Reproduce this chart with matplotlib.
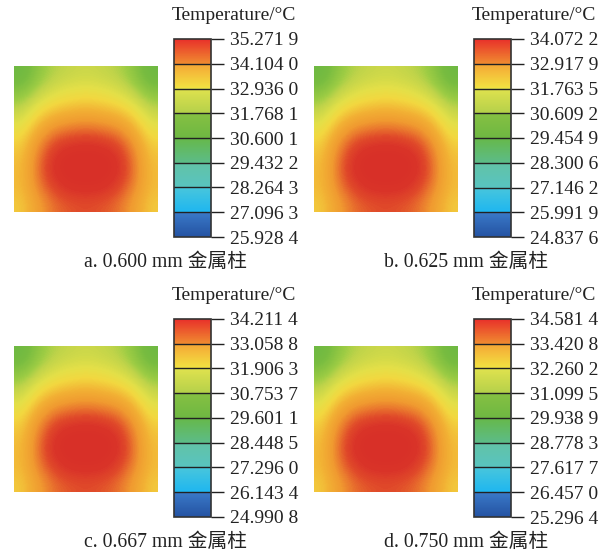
import numpy as np
import matplotlib
matplotlib.use("Agg")
import matplotlib.pyplot as plt
from matplotlib.colors import LinearSegmentedColormap, Normalize, to_rgb
from matplotlib.cm import ScalarMappable

plt.rcParams['font.family'] = ['Liberation Serif', 'Noto Sans CJK SC']

W, H = 612, 554

captions = ["a. 0.600 mm 金属柱", "b. 0.625 mm 金属柱",
            "c. 0.667 mm 金属柱", "d. 0.750 mm 金属柱"]

labels_a = ["35.271 9", "34.104 0", "32.936 0", "31.768 1", "30.600 1",
            "29.432 2", "28.264 3", "27.096 3", "25.928 4"]
labels_b = ["34.072 2", "32.917 9", "31.763 5", "30.609 2", "29.454 9",
            "28.300 6", "27.146 2", "25.991 9", "24.837 6"]
labels_c = ["34.211 4", "33.058 8", "31.906 3", "30.753 7", "29.601 1",
            "28.448 5", "27.296 0", "26.143 4", "24.990 8"]
labels_d = ["34.581 4", "33.420 8", "32.260 2", "31.099 5", "29.938 9",
            "28.778 3", "27.617 7", "26.457 0", "25.296 4"]

# temperature field read as position on the colour scale (0 = bottom, 1 = top)
field_rel = np.array([
    [0.52, 0.60, 0.65, 0.67, 0.68, 0.67, 0.65, 0.60, 0.52],
    [0.58, 0.65, 0.70, 0.72, 0.73, 0.72, 0.70, 0.65, 0.58],
    [0.65, 0.73, 0.77, 0.79, 0.80, 0.79, 0.77, 0.73, 0.65],
    [0.71, 0.80, 0.86, 0.88, 0.89, 0.88, 0.86, 0.80, 0.71],
    [0.76, 0.87, 0.94, 0.96, 0.97, 0.96, 0.94, 0.87, 0.76],
    [0.79, 0.91, 0.98, 1.00, 1.00, 1.00, 0.98, 0.91, 0.79],
    [0.80, 0.92, 0.99, 1.00, 1.00, 1.00, 0.99, 0.92, 0.80],
    [0.80, 0.90, 0.96, 0.99, 0.99, 0.99, 0.96, 0.90, 0.80],
    [0.78, 0.86, 0.92, 0.94, 0.95, 0.94, 0.92, 0.86, 0.78],
])

# colour bands of the legend, top to bottom: (top colour, bottom colour)
bands = [("#e8302a", "#f08c30"), ("#f5a535", "#f2e442"),
         ("#e0e24e", "#b4d04a"), ("#86c042", "#6eb842"),
         ("#66b848", "#5cbc88"), ("#62c2a6", "#58c4c0"),
         ("#48c6dc", "#1eb6f0"), ("#3a7ac8", "#2452a2")]

smooth_nodes = [(0.0, "#1f4e9c"), (0.12, "#3a7cc8"), (0.13, "#22b8ee"),
                (0.25, "#4cc8dc"), (0.30, "#5cc2c0"), (0.375, "#62c0a4"),
                (0.45, "#5cb870"), (0.50, "#6ab844"), (0.56, "#78bc40"),
                (0.625, "#9ccc44"), (0.66, "#c0d44a"), (0.72, "#e4e048"),
                (0.76, "#f2d840"), (0.82, "#f2b034"), (0.875, "#f09a30"),
                (0.91, "#ea7a2e"), (0.95, "#e04a2a"), (0.98, "#da3429"),
                (1.0, "#d83028")]
smooth_cmap = LinearSegmentedColormap.from_list("smooth", smooth_nodes)

# banded colormap for the colour bar
up = [(to_rgb(b), to_rgb(t)) for t, b in bands[::-1]]  # bottom to top
seg = {"red": [], "green": [], "blue": []}
n = len(up)
for k in range(n + 1):
    x = k / n
    below = up[k - 1][1] if k > 0 else up[0][0]
    above = up[k][0] if k < n else up[-1][1]
    for i, ch in enumerate(["red", "green", "blue"]):
        seg[ch].append((x, below[i], above[i]))
band_cmap = LinearSegmentedColormap("bands", seg, N=512)

panels = [(labels_a, 0, 0), (labels_b, 300, 0),
          (labels_c, 0, 280), (labels_d, 300, 280)]

fig = plt.figure(figsize=(W / 100, H / 100), dpi=100)


def px_axes(x, y, w, h):
    return fig.add_axes([x / W, 1 - (y + h) / H, w / W, h / H])


for (labels, dx, dy), cap in zip(panels, captions):
    vals = [float(s.replace(" ", "")) for s in labels]
    hi, lo = vals[0], vals[-1]
    temp = lo + field_rel * (hi - lo)

    ax = px_axes(14 + dx, 66 + dy, 144, 146)
    ax.imshow(temp, cmap=smooth_cmap, vmin=lo, vmax=hi,
              interpolation="bicubic", aspect="auto")
    ax.axis("off")

    cax = px_axes(174 + dx, 39 + dy, 37, 198)
    sm = ScalarMappable(norm=Normalize(lo, hi), cmap=band_cmap)
    cb = fig.colorbar(sm, cax=cax, ticks=vals)
    cb.ax.set_yticklabels(labels)
    cb.ax.tick_params(length=9, width=1, pad=5, labelsize=14,
                      color="#222222", labelcolor="#222222")
    cb.outline.set_linewidth(1.2)
    cb.outline.set_edgecolor("#333333")
    for v in vals[1:-1]:
        cax.axhline(v, color="#222222", lw=1)

    fig.text((172 + dx) / W, 1 - (15 + dy) / H, "Temperature/°C",
             ha="left", va="center", fontsize=14, color="#222222")
    fig.text((166 + dx) / W, 1 - (262 + dy) / H, cap,
             ha="center", va="center", fontsize=14.2, color="#222222")

fig.savefig("out.png", dpi=100)
